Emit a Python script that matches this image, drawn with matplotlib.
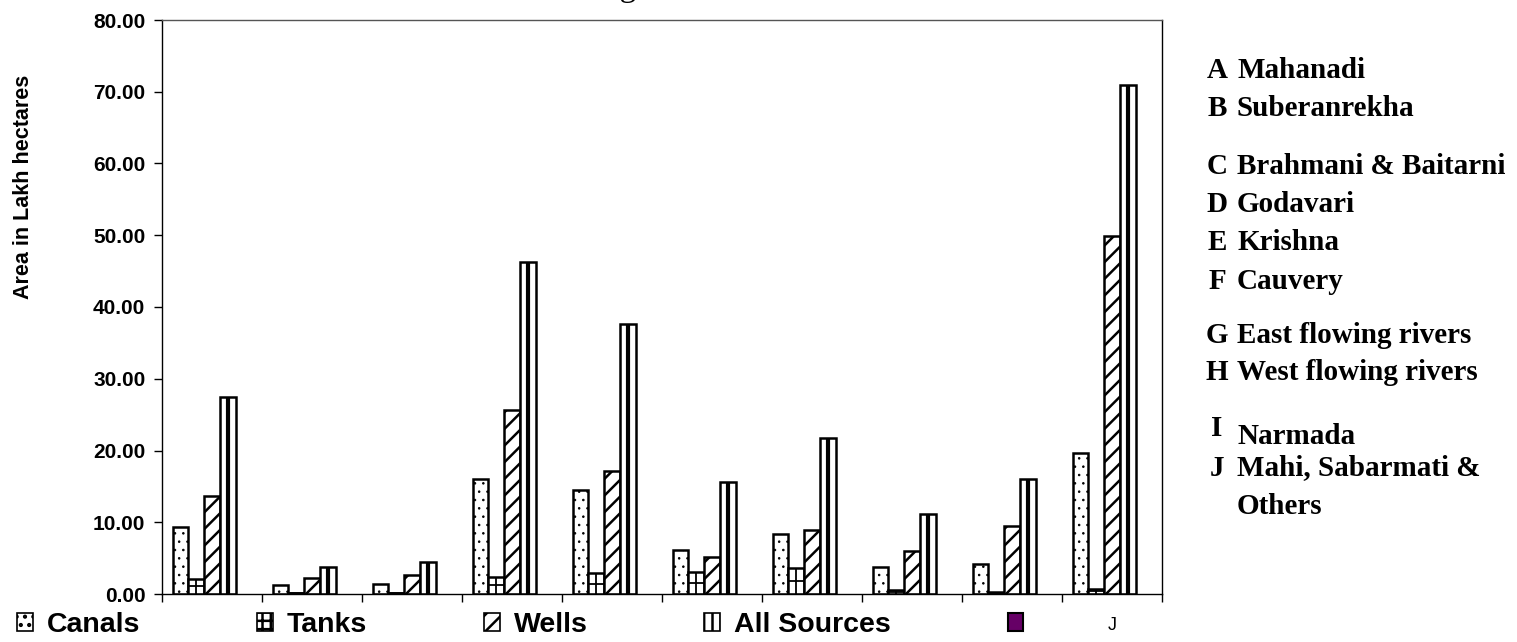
import matplotlib
matplotlib.use("Agg")
import matplotlib.pyplot as plt
import numpy as np
from matplotlib.patches import Patch

# basin-wise irrigated area by source (lakh ha)
basins = ["A", "B", "C", "D", "E", "F", "G", "H", "I", "J"]
canals = [9.3, 1.3, 1.4, 16.0, 14.5, 6.2, 8.4, 3.8, 4.2, 19.6]
tanks = [2.1, 0.2, 0.2, 2.4, 2.9, 3.1, 3.6, 0.5, 0.3, 0.7]
wells = [13.7, 2.2, 2.7, 25.6, 17.2, 5.2, 8.9, 6.0, 9.5, 49.9]
all_sources = [27.4, 3.8, 4.5, 46.3, 37.7, 15.6, 21.8, 11.1, 16.0, 71.0]
blank = [0] * 10
series_names = ["Canals", "Tanks", "Wells", "All Sources", ""]

basin_names = ["Mahanadi", "Suberanrekha", "Brahmani & Baitarni", "Godavari",
               "Krishna", "Cauvery", "East flowing rivers", "West flowing rivers",
               "Narmada", "Mahi, Sabarmati &"]

W, H = 1517, 642
plt.rcParams["font.family"] = ["Liberation Sans", "DejaVu Sans"]
plt.rcParams["hatch.linewidth"] = 1.8


def thin_dots(patches, lw=0.6):
    # dotted fill should be fine, not blobs
    for p in patches:
        if hasattr(p, "set_hatch_linewidth"):
            p.set_hatch_linewidth(lw)


fig = plt.figure(figsize=(W / 100, H / 100), dpi=100)
ax = fig.add_axes([162 / W, 1 - 594 / H, 1000 / W, 574 / H])

x = np.arange(len(basins))
bw = 0.158
lw = 1.8
canal_bars = ax.bar(x - 2 * bw, canals, bw, color="white", edgecolor="black", lw=lw, hatch="..")
thin_dots(canal_bars.patches)
tank_bars = ax.bar(x - bw, tanks, bw, color="white", edgecolor="black", lw=lw)
well_bars = ax.bar(x, wells, bw, color="white", edgecolor="black", lw=lw, hatch="//")
all_bars = ax.bar(x + bw, all_sources, bw, color="white", edgecolor="black", lw=lw)
ax.bar(x + 2 * bw, blank, bw, color="#660066", edgecolor="black", lw=0)

# cross inside tanks bars, centre stripe inside all-sources bars
for p in tank_bars.patches:
    cx = p.get_x() + p.get_width() / 2
    h = p.get_height()
    ax.plot([cx, cx], [0, h], color="black", lw=1.3, solid_capstyle="butt")
    ax.plot([p.get_x(), p.get_x() + p.get_width()], [h / 2, h / 2], color="black",
            lw=1.3, solid_capstyle="butt")
for p in all_bars.patches:
    cx = p.get_x() + p.get_width() / 2
    ax.plot([cx, cx], [0, p.get_height()], color="black", lw=3.0, solid_capstyle="butt")

ax.set_xlim(-0.5, len(basins) - 0.5)
ax.set_ylim(0, 80)
ax.set_yticks(np.arange(0, 81, 10))
ax.set_yticklabels([f"{v:.2f}" for v in np.arange(0, 81, 10)], fontsize=15, fontweight="bold")
ax.set_xticks(np.arange(-0.5, len(basins), 1.0))
ax.set_xticklabels([])
ax.tick_params(axis="y", direction="out", length=6, width=1, pad=6)
ax.tick_params(axis="x", direction="out", length=6, width=1)
for s in ax.spines.values():
    s.set_linewidth(1)
    s.set_color("black")
ax.spines["top"].set_color("#555555")

fig.text(24 / W, 1 - 187 / H, "Area in Lakh hectares", rotation=90, ha="center",
         va="center", fontsize=15.5, fontweight="bold")

# title, mostly cut off at the top edge in the original
fig.text(577 / W, 1 + 4 / H, "Irrigated Area", ha="left", va="baseline",
         fontsize=24, family="Liberation Serif")

# basin key on the right
name_y = [70, 108, 167, 205, 243, 282, 336, 373, 437, 468]
letter_y = [70, 108, 167, 205, 243, 282, 336, 373, 428, 468]
for b, nm, ly, ny in zip(basins, basin_names, letter_y, name_y):
    fig.text(1217 / W, 1 - ly / H, b, ha="center", va="center", fontsize=21,
             fontweight="bold", family="Liberation Serif")
    fig.text(1237 / W, 1 - ny / H, nm, ha="left", va="center", fontsize=21,
             fontweight="bold", family="Liberation Serif")
fig.text(1237 / W, 1 - 507 / H, "Others", ha="left", va="center", fontsize=21,
         fontweight="bold", family="Liberation Serif")

handles = [
    Patch(facecolor="white", edgecolor="black", hatch="..", lw=1.2),
    Patch(facecolor="white", edgecolor="black", hatch="++", lw=1.2),
    Patch(facecolor="white", edgecolor="black", hatch="//", lw=1.2),
    Patch(facecolor="white", edgecolor="black", hatch="||", lw=1.2),
    Patch(facecolor="#660066", edgecolor="black", lw=1.5),
]
thin_dots(handles[:1])
fig.legend(handles, series_names, loc="center left", bbox_to_anchor=(17 / W, 1 - 625 / H),
           ncol=5, frameon=False, borderpad=0, borderaxespad=0,
           handlelength=0.55, handleheight=0.6, handletextpad=0.5, columnspacing=4.1,
           prop={"size": 20.5, "weight": "bold"})
fig.text(1112 / W, 1 - 625 / H, "J", ha="center", va="center", fontsize=13)

fig.savefig("out.png", dpi=100)
